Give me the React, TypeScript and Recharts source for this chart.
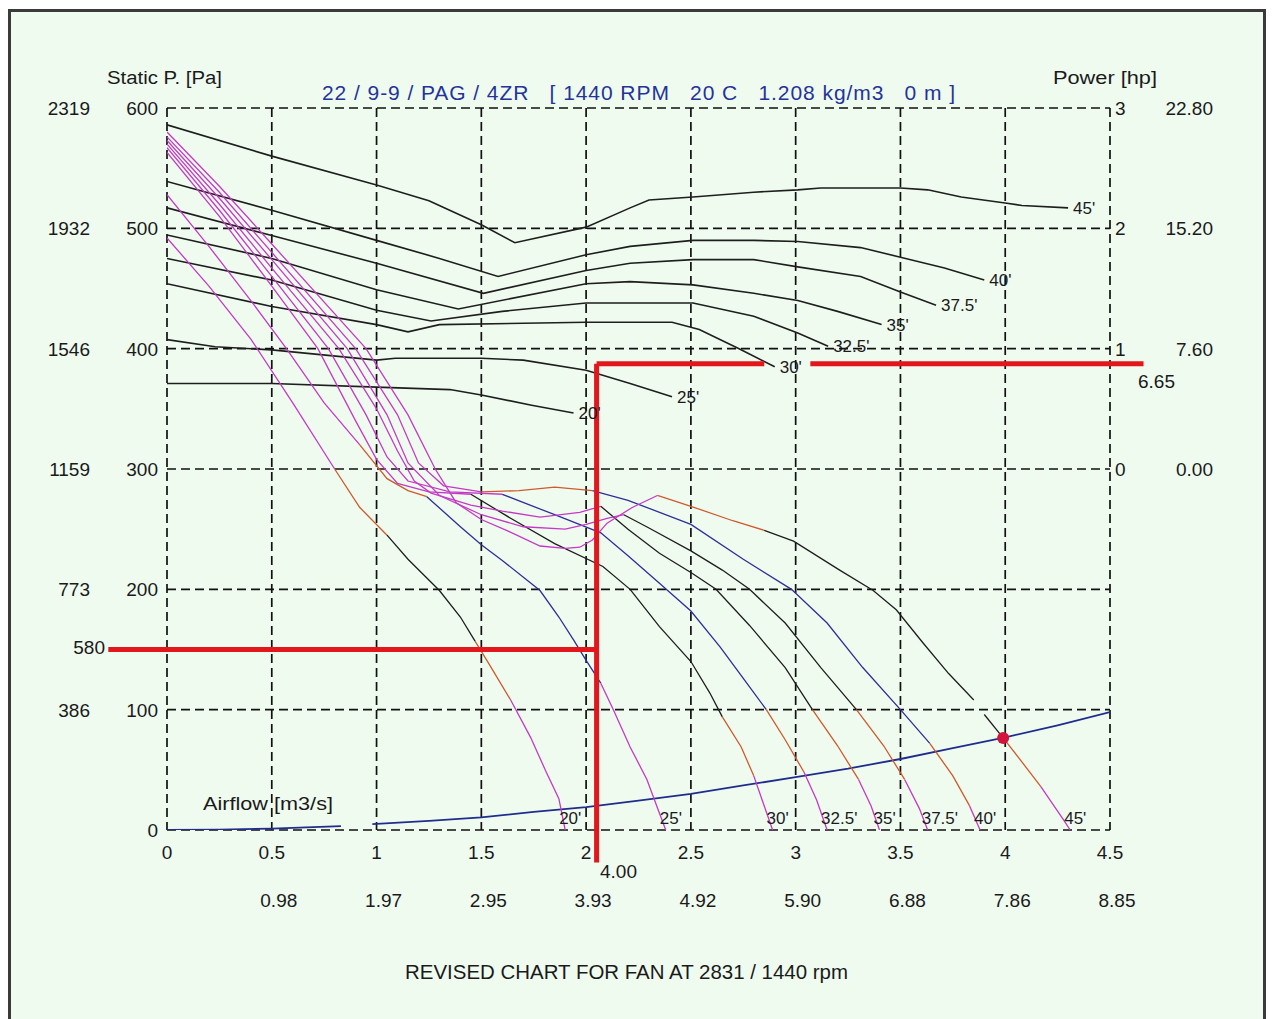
import React from 'react';
import {
  LineChart,
  Line,
  XAxis,
  YAxis,
  CartesianGrid,
  ReferenceLine,
  ReferenceDot,
  LabelList,
} from 'recharts';

type Point = [number, number];
type Tone = 'magenta' | 'orange' | 'black' | 'blue';

const FONT = "'Liberation Sans', Arial, Helvetica, sans-serif";

// axes
const FLOW_TICKS = [0, 0.5, 1, 1.5, 2, 2.5, 3, 3.5, 4, 4.5];
const FLOW_LABELS = ['0', '0.5', '1', '1.5', '2', '2.5', '3', '3.5', '4', '4.5'];
const FLOW_ALT_LABELS = ['', '0.98', '1.97', '2.95', '3.93', '4.92', '5.90', '6.88', '7.86', '8.85'];
const PRESSURE_TICKS = [0, 100, 200, 300, 400, 500, 600];
const PRESSURE_ALT_LABELS = ['', '386', '773', '1159', '1546', '1932', '2319'];
const POWER_TICKS = [0, 1, 2, 3];
const POWER_ALT_LABELS = ['0.00', '7.60', '15.20', '22.80'];

const ANGLES = ["20'", "25'", "30'", "32.5'", "35'", "37.5'", "40'", "45'"];

// static pressure curves [m3/s, Pa]
const FAN_20: Point[] = [
  [0, 492], [0.2, 452], [0.4, 408], [0.6, 355], [0.8, 300], [0.92, 268], [1.05, 245],
  [1.15, 225], [1.3, 199], [1.4, 177], [1.47, 157], [1.54, 137], [1.64, 108],
  [1.735, 77], [1.81, 48], [1.87, 26], [1.9, 0],
];
const FAN_25: Point[] = [
  [0, 528], [0.2, 485], [0.4, 440], [0.57, 400], [0.75, 355], [0.92, 320], [1.05, 292],
  [1.15, 282], [1.24, 277], [1.4, 252], [1.5, 237], [1.6, 224], [1.78, 199], [1.87, 177],
  [1.94, 158], [2.0, 141], [2.07, 122], [2.13, 100], [2.21, 69], [2.29, 42], [2.35, 14], [2.38, 0],
];
const FAN_30: Point[] = [
  [0, 563], [0.25, 510], [0.5, 452], [0.72, 400], [0.9, 340], [1.0, 308], [1.1, 288],
  [1.25, 281], [1.45, 279], [1.65, 258], [1.85, 238], [2.08, 219], [2.21, 200], [2.35, 169],
  [2.5, 140], [2.59, 114], [2.65, 94], [2.74, 69], [2.8, 45], [2.85, 20], [2.89, 0],
];
const FAN_325: Point[] = [
  [0, 567], [0.25, 515], [0.5, 460], [0.77, 400], [0.95, 345], [1.05, 310], [1.15, 290],
  [1.35, 281], [1.6, 279], [1.85, 262], [2.07, 247], [2.2, 228], [2.35, 205], [2.5, 182],
  [2.64, 152], [2.75, 126], [2.86, 100], [2.95, 75], [3.04, 48], [3.1, 25], [3.15, 0],
];
const FAN_35: Point[] = [
  [0, 570], [0.25, 520], [0.5, 467], [0.82, 400], [1.0, 350], [1.1, 315], [1.18, 290],
  [1.26, 280], [1.45, 270], [1.6, 265], [1.78, 260], [1.97, 264], [2.07, 269], [2.2, 250],
  [2.35, 230], [2.5, 214], [2.62, 200], [2.78, 170], [2.95, 135], [3.08, 100], [3.2, 70],
  [3.3, 42], [3.36, 20], [3.4, 0],
];
const FAN_375: Point[] = [
  [0, 573], [0.25, 525], [0.5, 474], [0.86, 400], [1.05, 345], [1.15, 305], [1.3, 278],
  [1.5, 262], [1.7, 252], [1.9, 250], [2.0, 254], [2.1, 259], [2.18, 262], [2.3, 251],
  [2.5, 232], [2.65, 216], [2.78, 200], [2.95, 172], [3.12, 135], [3.29, 100], [3.42, 70],
  [3.52, 42], [3.59, 18], [3.63, 0],
];
const FAN_40: Point[] = [
  [0, 576], [0.25, 530], [0.5, 480], [0.9, 400], [1.1, 345], [1.2, 305], [1.32, 286],
  [1.5, 281], [1.68, 282], [1.85, 285], [2.03, 282], [2.2, 274], [2.5, 254], [2.75, 225],
  [2.98, 200], [3.15, 172], [3.32, 135], [3.5, 100], [3.64, 72], [3.75, 45], [3.83, 20], [3.88, 0],
];
const FAN_45: Point[] = [
  [0, 580], [0.25, 535], [0.5, 487], [0.95, 400], [1.15, 345], [1.28, 300], [1.38, 272],
  [1.5, 258], [1.62, 249], [1.78, 236], [1.9, 234], [1.97, 235], [2.03, 241], [2.1, 255],
  [2.22, 268], [2.34, 278], [2.5, 269], [2.7, 257], [2.85, 249], [2.99, 240], [3.21, 216],
  [3.37, 199], [3.48, 183], [3.61, 155], [3.73, 130], [3.85, 108], [3.9, 96], [3.99, 76.5],
  [4.06, 61], [4.17, 36], [4.28, 8], [4.31, 0],
];

// shaft power curves [m3/s, hp]
const POWER_20: Point[] = [
  [0, 0.71], [0.5, 0.71], [1.0, 0.68], [1.35, 0.66], [1.5, 0.615], [1.74, 0.53], [1.94, 0.465],
];
const POWER_25: Point[] = [
  [0, 1.075], [0.23, 1.016], [0.5, 0.99], [1.0, 0.905], [1.09, 0.92], [1.5, 0.92],
  [1.7, 0.905], [2.0, 0.82], [2.21, 0.71], [2.41, 0.6],
];
const POWER_30: Point[] = [
  [0, 1.54], [0.5, 1.35], [1.0, 1.2], [1.15, 1.14], [1.3, 1.2], [2.0, 1.22], [2.41, 1.22],
  [2.54, 1.16], [2.73, 1.0], [2.9, 0.85],
];
const POWER_325: Point[] = [
  [0, 1.75], [0.5, 1.57], [1.0, 1.32], [1.26, 1.23], [1.6, 1.31], [2.0, 1.38], [2.51, 1.38],
  [2.8, 1.27], [3.01, 1.13], [3.155, 1.02],
];
const POWER_35: Point[] = [
  [0, 1.945], [0.5, 1.75], [1.0, 1.49], [1.39, 1.33], [2.0, 1.54], [2.21, 1.557], [2.51, 1.53],
  [2.8, 1.46], [3.01, 1.4], [3.2, 1.31], [3.41, 1.2],
];
const POWER_375: Point[] = [
  [0, 2.17], [0.5, 1.94], [1.0, 1.71], [1.51, 1.46], [2.0, 1.65], [2.21, 1.71], [2.51, 1.74],
  [2.8, 1.74], [3.01, 1.68], [3.31, 1.6], [3.5, 1.47], [3.67, 1.36],
];
const POWER_40: Point[] = [
  [0, 2.39], [0.5, 2.15], [1.0, 1.9], [1.3, 1.75], [1.58, 1.6], [2.0, 1.78], [2.21, 1.85],
  [2.51, 1.9], [2.8, 1.9], [3.01, 1.89], [3.31, 1.84], [3.5, 1.76], [3.71, 1.67], [3.9, 1.57],
];
const POWER_45: Point[] = [
  [0, 2.86], [0.5, 2.6], [1.0, 2.36], [1.25, 2.23], [1.5, 2.03], [1.66, 1.88], [2.0, 2.01],
  [2.21, 2.17], [2.3, 2.235], [2.51, 2.26], [2.8, 2.3], [3.01, 2.32], [3.12, 2.335],
  [3.5, 2.335], [3.63, 2.32], [3.79, 2.26], [4.0, 2.21], [4.08, 2.19], [4.3, 2.17],
];

// system resistance curve [m3/s, Pa]
const SYSTEM_LOW: Point[] = [[0, 0], [0.25, 0.3], [0.5, 1.2], [0.83, 3.3]];
const SYSTEM_HIGH: Point[] = [
  [0.98, 4.8], [1.25, 7.5], [1.5, 10.5], [1.75, 15], [2.0, 19], [2.25, 24.5], [2.5, 30],
  [2.75, 37], [3.0, 44], [3.25, 51], [3.5, 59], [3.75, 68], [4.0, 77], [4.25, 87], [4.5, 98],
];

// duty point marks
const DUTY_FLOW = 2.05;
const DUTY_PRESSURE = 150;
const DUTY_POWER = 0.875;
const DUTY_PRESSURE_FROM = -0.28;
const DUTY_FLOW_BOTTOM = -27;
const DUTY_POWER_GAP: Point = [2.85, 3.07];
const DUTY_POWER_TO = 4.66;
const OPERATING_POINT: Point = [3.99, 76.5];

const FAN_CURVES = [FAN_20, FAN_25, FAN_30, FAN_325, FAN_35, FAN_375, FAN_40, FAN_45];
const POWER_CURVES = [POWER_20, POWER_25, POWER_30, POWER_325, POWER_35, POWER_375, POWER_40, POWER_45];

const TONES: Record<Tone, string> = {
  magenta: '#c43ac6',
  orange: '#cf5a2c',
  black: '#1e1e1e',
  blue: '#2e2e98',
};

// colour runs along each pressure curve: [from index, to index, tone]
const FAN_SEGMENTS: [number, number, Tone][][] = [
  [[0, 4, 'magenta'], [4, 6, 'orange'], [6, 10, 'black'], [10, 12, 'orange'], [12, 16, 'magenta']],
  [[0, 5, 'magenta'], [5, 8, 'orange'], [8, 16, 'blue'], [16, 21, 'magenta']],
  [[0, 8, 'magenta'], [8, 16, 'black'], [16, 18, 'orange'], [18, 20, 'magenta']],
  [[0, 8, 'magenta'], [8, 16, 'blue'], [16, 18, 'orange'], [18, 20, 'magenta']],
  [[0, 12, 'magenta'], [12, 19, 'black'], [19, 21, 'orange'], [21, 23, 'magenta']],
  [[0, 12, 'magenta'], [12, 19, 'black'], [19, 21, 'orange'], [21, 23, 'magenta']],
  [[0, 7, 'magenta'], [7, 10, 'orange'], [10, 18, 'blue'], [18, 20, 'orange'], [20, 21, 'magenta']],
  [[0, 15, 'magenta'], [15, 18, 'orange'], [18, 25, 'black'], [26, 27, 'black'], [27, 29, 'orange'], [29, 31, 'magenta']],
];

const RED = '#e3161b';
const INK = '#1a1a1a';
const TITLE_BLUE = '#24339c';

const powerToPa = (hp: number) => 300 + hp * 100;
const toRows = (pts: Point[]) => pts.map(([x, v]) => ({ x, v }));

const PressureTick = (props: any) => {
  const { x, y, payload } = props;
  const i = PRESSURE_TICKS.indexOf(payload.value);
  return (
    <g fontFamily={FONT} fontSize={19} fill={INK}>
      <text x={x - 9} y={y + 7} textAnchor="end">{payload.value}</text>
      {PRESSURE_ALT_LABELS[i] && (
        <text x={x - 77} y={y + 7} textAnchor="end">{PRESSURE_ALT_LABELS[i]}</text>
      )}
    </g>
  );
};

const PowerTick = (props: any) => {
  const { x, y, payload } = props;
  const i = POWER_TICKS.indexOf(payload.value);
  return (
    <g fontFamily={FONT} fontSize={19} fill={INK}>
      <text x={x + 5} y={y + 7} textAnchor="start">{payload.value}</text>
      <text x={x + 103} y={y + 7} textAnchor="end">{POWER_ALT_LABELS[i]}</text>
    </g>
  );
};

const FlowTick = (props: any) => {
  const { x, y, payload } = props;
  const i = FLOW_TICKS.indexOf(payload.value);
  return (
    <g fontFamily={FONT} fontSize={19} fill={INK}>
      <text x={x} y={y + 29} textAnchor="middle">{FLOW_LABELS[i]}</text>
      {FLOW_ALT_LABELS[i] && (
        <text x={x + 7} y={y + 77} textAnchor="middle">{FLOW_ALT_LABELS[i]}</text>
      )}
    </g>
  );
};

const endLabel = (text: string, last: number, dx: number, dy: number) => (props: any) =>
  props.index === last ? (
    <text x={props.x + dx} y={props.y + dy} fontFamily={FONT} fontSize={17} fill={INK}>
      {text}
    </text>
  ) : null;

export default function App() {
  return (
    <div style={{ position: 'absolute', left: 0, top: 0, width: 1274, height: 1019, background: '#fff', overflow: 'hidden' }}>
      <div
        style={{
          position: 'absolute', left: 8, top: 9, width: 1252, height: 1040,
          border: '3px solid #3a3a3a', background: '#f0fbf0',
        }}
      />
      <div style={{ position: 'absolute', left: 0, top: 0 }}>
        <LineChart width={1274} height={1019} margin={{ top: 108, right: 34, bottom: 89, left: 67 }}>
          <CartesianGrid yAxisId="pa" stroke="#111" strokeWidth={1.7} strokeDasharray="9 5" />
          <XAxis
            type="number"
            dataKey="x"
            domain={[0, 4.5]}
            ticks={FLOW_TICKS}
            interval={0}
            allowDataOverflow
            axisLine={false}
            tickLine={false}
            tickSize={0}
            tickMargin={0}
            height={100}
            tick={<FlowTick />}
          />
          <YAxis
            yAxisId="pa"
            type="number"
            domain={[0, 600]}
            ticks={PRESSURE_TICKS}
            interval={0}
            allowDataOverflow
            axisLine={false}
            tickLine={false}
            tickSize={0}
            tickMargin={0}
            width={100}
            tick={<PressureTick />}
          />
          <YAxis
            yAxisId="power"
            orientation="right"
            type="number"
            domain={[-3, 3]}
            ticks={POWER_TICKS}
            interval={0}
            allowDataOverflow
            axisLine={false}
            tickLine={false}
            tickSize={0}
            tickMargin={0}
            width={130}
            tick={<PowerTick />}
          />

          {POWER_CURVES.map((pts, ci) => (
            <Line
              key={`power-${ci}`}
              yAxisId="power"
              data={toRows(pts)}
              dataKey="v"
              type="linear"
              stroke={TONES.black}
              strokeWidth={1.6}
              dot={false}
              activeDot={false}
              isAnimationActive={false}
            >
              <LabelList dataKey="v" content={endLabel(ANGLES[ci], pts.length - 1, 5, 6)} />
            </Line>
          ))}

          <Line yAxisId="pa" data={toRows(SYSTEM_LOW)} dataKey="v" type="linear" stroke="#1f2d8c"
            strokeWidth={1.8} dot={false} activeDot={false} isAnimationActive={false} />
          <Line yAxisId="pa" data={toRows(SYSTEM_HIGH)} dataKey="v" type="linear" stroke="#1f2d8c"
            strokeWidth={1.8} dot={false} activeDot={false} isAnimationActive={false} />

          {FAN_CURVES.map((pts, ci) =>
            FAN_SEGMENTS[ci].map(([a, b, tone], si) => {
              const rows = toRows(pts.slice(a, b + 1));
              const isLast = si === FAN_SEGMENTS[ci].length - 1;
              return (
                <Line
                  key={`fan-${ci}-${si}`}
                  yAxisId="pa"
                  data={rows}
                  dataKey="v"
                  type="linear"
                  stroke={TONES[tone]}
                  strokeWidth={1.3}
                  dot={false}
                  activeDot={false}
                  isAnimationActive={false}
                >
                  {isLast && <LabelList dataKey="v" content={endLabel(ANGLES[ci], rows.length - 1, -6, -6)} />}
                </Line>
              );
            })
          )}

          <ReferenceLine
            yAxisId="pa"
            ifOverflow="visible"
            segment={[{ x: DUTY_PRESSURE_FROM, y: DUTY_PRESSURE }, { x: DUTY_FLOW, y: DUTY_PRESSURE }]}
            stroke={RED}
            strokeWidth={5}
          />
          <ReferenceLine
            yAxisId="pa"
            ifOverflow="visible"
            segment={[{ x: DUTY_FLOW, y: powerToPa(DUTY_POWER) }, { x: DUTY_FLOW, y: DUTY_FLOW_BOTTOM }]}
            stroke={RED}
            strokeWidth={5}
          />
          <ReferenceLine
            yAxisId="pa"
            ifOverflow="visible"
            segment={[{ x: DUTY_FLOW, y: powerToPa(DUTY_POWER) }, { x: DUTY_POWER_GAP[0], y: powerToPa(DUTY_POWER) }]}
            stroke={RED}
            strokeWidth={5}
          />
          <ReferenceLine
            yAxisId="pa"
            ifOverflow="visible"
            segment={[{ x: DUTY_POWER_GAP[1], y: powerToPa(DUTY_POWER) }, { x: DUTY_POWER_TO, y: powerToPa(DUTY_POWER) }]}
            stroke={RED}
            strokeWidth={5}
          />
          <ReferenceDot
            yAxisId="pa"
            x={OPERATING_POINT[0]}
            y={OPERATING_POINT[1]}
            r={6}
            fill="#d4123a"
            stroke="none"
            ifOverflow="visible"
          />
        </LineChart>
      </div>

      <svg width={1274} height={1019} style={{ position: 'absolute', left: 0, top: 0, pointerEvents: 'none' }}>
        <g fontFamily={FONT} fill={INK}>
          <text x={107} y={84} fontSize={18} textLength={115} lengthAdjust="spacingAndGlyphs">Static P. [Pa]</text>
          <text x={1053} y={84} fontSize={18} textLength={104} lengthAdjust="spacingAndGlyphs">Power [hp]</text>
          <text x={322} y={100} fontSize={21} fill={TITLE_BLUE} textLength={633} lengthAdjust="spacing"
            style={{ whiteSpace: 'pre' }}>
            {'22 / 9-9 / PAG / 4ZR   [ 1440 RPM   20 C   1.208 kg/m3   0 m ]'}
          </text>
          <text x={203} y={810} fontSize={19} textLength={130} lengthAdjust="spacingAndGlyphs">Airflow [m3/s]</text>
          <text x={405} y={979} fontSize={20} textLength={443} lengthAdjust="spacingAndGlyphs">
            REVISED CHART FOR FAN AT 2831 / 1440 rpm
          </text>
          <text x={105} y={654} fontSize={19} textAnchor="end">580</text>
          <text x={600} y={878} fontSize={19}>4.00</text>
          <text x={1138} y={388} fontSize={19}>6.65</text>
        </g>
      </svg>
    </div>
  );
}
